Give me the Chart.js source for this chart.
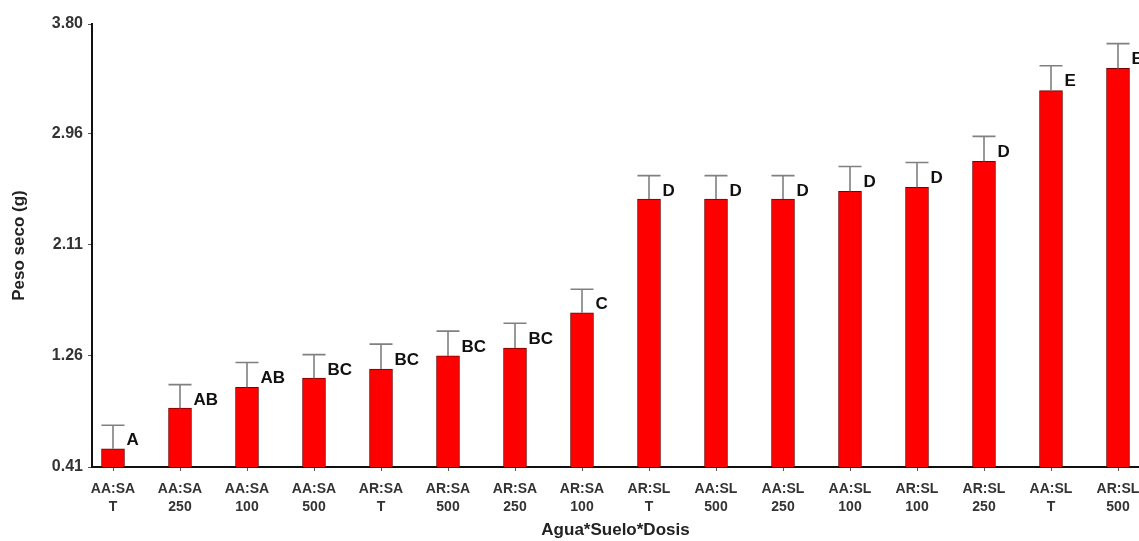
<!DOCTYPE html>
<html>
<head>
<meta charset="utf-8">
<script src="https://cdn.jsdelivr.net/npm/chart.js@4/dist/chart.umd.min.js"></script>
<style>
html,body{margin:0;padding:0;background:#fff;overflow:hidden}
canvas{display:block}
</style>
</head>
<body>
<canvas id="c" width="1139" height="541"></canvas>
<script>
// Treatment (Agua:Suelo) and dose for each bar
const tratamiento = ['AA:SA','AA:SA','AA:SA','AA:SA','AR:SA','AR:SA','AR:SA','AR:SA',
                     'AR:SL','AA:SL','AA:SL','AA:SL','AR:SL','AR:SL','AA:SL','AR:SL'];
const dosis = ['T','250','100','500','T','500','250','100',
               'T','500','250','100','100','250','T','500'];
// Mean dry weight (g)
const pesoSeco = [0.55, 0.86, 1.02, 1.09, 1.16, 1.26, 1.32, 1.59,
                  2.46, 2.46, 2.46, 2.52, 2.55, 2.75, 3.29, 3.46];
// Error bar (upper) length (g)
const errorSup = [0.18, 0.18, 0.19, 0.18, 0.19, 0.19, 0.19, 0.18,
                  0.18, 0.18, 0.18, 0.19, 0.19, 0.19, 0.19, 0.19];
// Significance letters
const letras = ['A','AB','AB','BC','BC','BC','BC','C','D','D','D','D','D','D','E','E'];
// Y axis tick labels
const yTicks = [0.41, 1.26, 2.11, 2.96, 3.80];
const xTitulo = 'Agua*Suelo*Dosis';
const yTitulo = 'Peso seco (g)';

const bg = {
  id: 'bg',
  beforeDraw(chart) {
    const ctx = chart.ctx;
    ctx.save();
    ctx.fillStyle = '#fff';
    ctx.fillRect(0, 0, chart.width, chart.height);
    ctx.restore();
  }
};

const errLetters = {
  id: 'errLetters',
  afterDatasetsDraw(chart) {
    const ctx = chart.ctx;
    const ys = chart.scales.y;
    const meta = chart.getDatasetMeta(0);
    ctx.save();
    meta.data.forEach((bar, i) => {
      const x = bar.x;
      const top = bar.y;
      const cap = ys.getPixelForValue(pesoSeco[i] + errorSup[i]);
      const half = bar.width / 2;
      ctx.strokeStyle = '#808080';
      ctx.lineWidth = 1.6;
      ctx.beginPath();
      ctx.moveTo(x, top);
      ctx.lineTo(x, cap);
      ctx.moveTo(x - half, cap);
      ctx.lineTo(x + half, cap);
      ctx.stroke();
      ctx.fillStyle = '#111';
      ctx.font = 'bold 17px "Liberation Sans", Arial, sans-serif';
      ctx.textAlign = 'left';
      ctx.textBaseline = 'middle';
      ctx.fillText(letras[i], x + half + 2, (top + cap) / 2 + 3.5);
    });
    ctx.restore();
  }
};

const x0 = 113, step = 67, leftPx = 92, rightPx = 1139;

new Chart(document.getElementById('c'), {
  type: 'bar',
  data: {
    datasets: [{
      data: pesoSeco.map((v, i) => ({x: i, y: v})),
      backgroundColor: '#ff0000',
      borderColor: '#7a0000',
      borderWidth: 1,
      barThickness: 23
    }]
  },
  options: {
    responsive: false,
    animation: false,
    layout: {padding: {top: 24, right: 0, bottom: 0, left: 0}},
    plugins: {legend: {display: false}, tooltip: {enabled: false}},
    scales: {
      x: {
        type: 'linear',
        offset: false,
        min: (leftPx - x0) / step,
        max: (rightPx - x0) / step,
        afterBuildTicks: s => { s.ticks = tratamiento.map((_, i) => ({value: i})); },
        afterFit: s => { s.height = 74; s.paddingLeft = 0; s.paddingRight = 0; },
        grid: {offset: false, drawOnChartArea: false, drawTicks: true, tickLength: 4, color: '#555'},
        border: {color: '#111', width: 2},
        ticks: {
          autoSkip: false,
          maxRotation: 0,
          padding: 9,
          color: '#333',
          font: {family: '"Liberation Sans", Arial, sans-serif', size: 14, weight: 'bold', lineHeight: 1.3},
          callback: v => (Number.isInteger(v) && tratamiento[v]) ? [tratamiento[v], dosis[v]] : ''
        },
        title: {
          display: true,
          text: xTitulo,
          color: '#222',
          padding: {top: 0, bottom: 0},
          font: {family: '"Liberation Sans", Arial, sans-serif', size: 17, weight: 'bold'}
        }
      },
      y: {
        min: 0.41,
        max: 3.80,
        afterBuildTicks: s => { s.ticks = yTicks.map(v => ({value: v})); },
        afterFit: s => { s.width = 92; s.paddingTop = 0; s.paddingBottom = 0; },
        grid: {drawOnChartArea: false, drawTicks: true, tickLength: 4, color: '#555'},
        border: {color: '#111', width: 2},
        ticks: {
          padding: 5,
          color: '#333',
          font: {family: '"Liberation Sans", Arial, sans-serif', size: 16, weight: 'bold'},
          callback: v => Number(v).toFixed(2)
        },
        title: {
          display: true,
          text: yTitulo,
          color: '#222',
          padding: {top: 9, bottom: 0},
          font: {family: '"Liberation Sans", Arial, sans-serif', size: 17, weight: 'bold'}
        }
      }
    }
  },
  plugins: [bg, errLetters]
});
</script>
</body>
</html>
